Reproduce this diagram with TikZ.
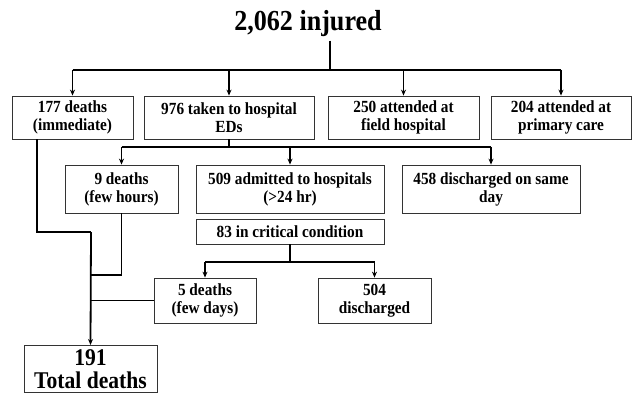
\documentclass[tikz,border=0pt]{standalone}
\usepackage{fontspec}
\setmainfont[FakeStretch=0.9]{Liberation Serif}
\usepackage{tikz}
\usetikzlibrary{arrows.meta}
\tikzset{
	box/.style={draw=black!80, line width=0.8pt, align=center, inner sep=2pt,
		font=\bfseries\fontsize{17}{18}\selectfont},
	conn/.style={line width=1.8pt},
	arr/.style={line width=1.8pt, -{Stealth[length=6pt,width=5pt]}}
}

\begin{document}
\begin{tikzpicture}[x=1pt,y=-1pt]
	\useasboundingbox[fill=white] (0,0) rectangle (635,393);
	\node[font=\bfseries\fontsize{29}{30}\selectfont] (inj) at (308,24) {2,062 injured};
	\node[box, minimum width=121pt, minimum height=43pt] (b1) at (72.5,117.5) {177 deaths\\(immediate)};
	\node[box, minimum width=170pt, minimum height=43pt] (b2) at (229,117.5) {976 taken to hospital\\EDs};
	\node[box, minimum width=151pt, minimum height=43pt] (b3) at (403.5,117.5) {250 attended at\\field hospital};
	\node[box, minimum width=140pt, minimum height=43pt] (b4) at (561,117.5) {204 attended at\\primary care};
	\node[box, minimum width=113pt, minimum height=48pt] (c1) at (121.5,189) {9 deaths\\(few hours)};
	\node[box, minimum width=188pt, minimum height=48pt] (c2) at (290,189) {509 admitted to hospitals\\(>24 hr)};
	\node[box, minimum width=178pt, minimum height=48pt] (c3) at (491,189) {458 discharged on same\\day};
	\node[box, minimum width=188pt, minimum height=25pt] (crit) at (290,231.5) {83 in critical condition};
	\node[box, minimum width=102pt, minimum height=45pt] (d1) at (205,300.5) {5 deaths\\(few days)};
	\node[box, minimum width=113pt, minimum height=45pt] (d2) at (374.5,300.5) {504\\discharged};
	\node[box, anchor=north, minimum width=133pt, inner ysep=4pt,
		font=\bfseries\fontsize{24}{23}\selectfont] (tot) at (90.5,345) {191\\Total deaths};
	\coordinate (j0) at (330,70);
	\coordinate (j1) at (229,147);
	\coordinate (j2) at (290,262);
	\coordinate (m1) at (91,232);
	\coordinate (m2) at (91,275);
	\draw[conn] (j0 |- inj.south) -- (j0);
	\draw[conn] (b1.north |- j0) -- (b4.north |- j0);
	\foreach \n in {b1,b2,b3,b4}
		\draw[arr] (\n.north |- j0) -- (\n.north);
	\draw[conn] (b2.south) -- (j1);
	\draw[conn] (c1.north |- j1) -- (c3.north |- j1);
	\foreach \n in {c1,c2,c3}
		\draw[arr] (\n.north |- j1) -- (\n.north);
	\draw[conn] (crit.south) -- (j2);
	\draw[conn] (d1.north |- j2) -- (d2.north |- j2);
	\foreach \n in {d1,d2}
		\draw[arr] (\n.north |- j2) -- (\n.north);
	\draw[conn] ([xshift=-35.5pt]b1.south) |- (m1);
	\draw[conn] (c1.south) |- (m2);
	\draw[conn] (d1.west) -- (d1.west -| m1);
	\draw[arr] (m1) -- (tot.north);
\end{tikzpicture}
\end{document}
